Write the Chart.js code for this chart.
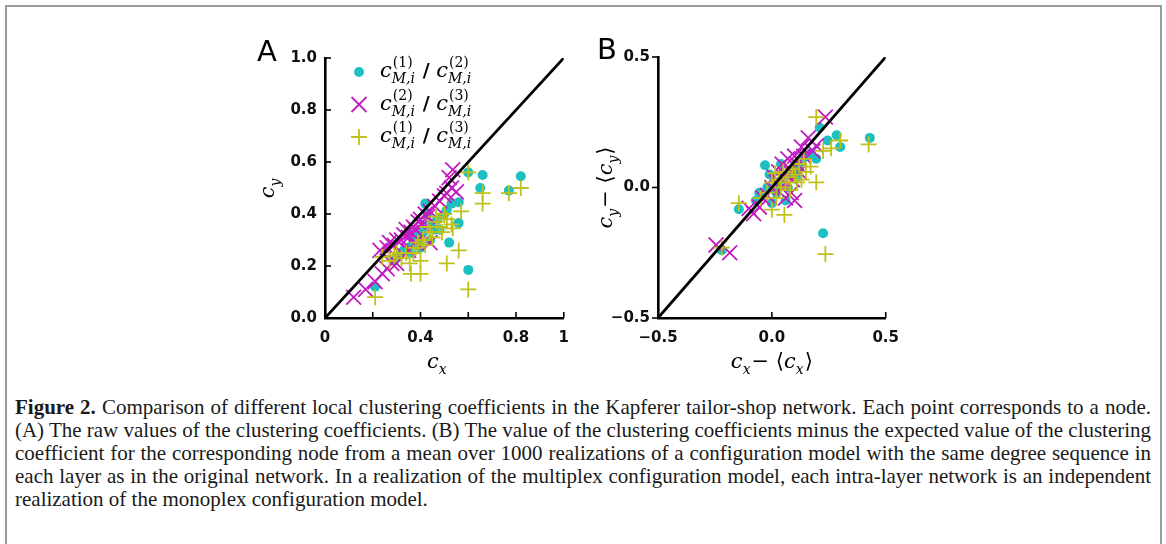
<!DOCTYPE html>
<html>
<head>
<meta charset="utf-8">
<script src="https://cdn.jsdelivr.net/npm/chart.js@4.4.1/dist/chart.umd.min.js"></script>
<style>
  body { margin: 0; width: 1166px; height: 544px; background: #fff; position: relative; overflow: hidden; }
  .frame { position: absolute; left: 5px; top: 5px; width: 1153px; height: 600px; border: 2px solid #9a9a9a; }
  canvas { position: absolute; top: 30px; }
  #panelA { left: 230px; }
  #panelB { left: 590px; }
  .cap { position: absolute; left: 15px; top: 396px; width: 1136px; font-family: 'Liberation Serif', serif;
         font-size: 21px; line-height: 23px; color: #1a1a1a; }
  .cap span { display: inline-block; white-space: nowrap; transform-origin: 0 0; }
</style>
</head>
<body>
<div class="frame"></div>
<canvas id="panelA" width="350" height="360"></canvas>
<canvas id="panelB" width="320" height="360"></canvas>
<div class="cap">
  <div><span data-fit="1"><b>Figure 2.</b> Comparison of different local clustering coefficients in the Kapferer tailor-shop network. Each point corresponds to a node.</span></div>
  <div><span data-fit="1">(A) The raw values of the clustering coefficients. (B) The value of the clustering coefficients minus the expected value of the clustering</span></div>
  <div><span data-fit="1">coefficient for the corresponding node from a mean over 1000 realizations of a configuration model with the same degree sequence in</span></div>
  <div><span data-fit="1">each layer as in the original network. In a realization of the multiplex configuration model, each intra-layer network is an independent</span></div>
  <div><span>realization of the monoplex configuration model.</span></div>
</div>
<script>
// panel A: raw clustering coefficients [c_x, c_y]
const rawC1C2 = [[0.21,0.12],[0.42,0.44],[0.60,0.56],[0.66,0.55],[0.65,0.50],[0.82,0.545],[0.77,0.49],
  [0.60,0.185],[0.56,0.365],[0.52,0.29],[0.53,0.44],[0.56,0.445],[0.51,0.415],[0.47,0.38],[0.46,0.34],
  [0.44,0.36],[0.41,0.33],[0.39,0.30],[0.37,0.29],[0.35,0.27],[0.33,0.26],[0.31,0.24],[0.36,0.25],
  [0.40,0.27],[0.44,0.30],[0.48,0.34],[0.29,0.22],[0.38,0.32],[0.43,0.40],[0.50,0.40]];
const rawC2C3 = [[0.12,0.08],[0.17,0.11],[0.21,0.14],[0.24,0.17],[0.26,0.19],[0.28,0.21],[0.30,0.21],
  [0.23,0.26],[0.26,0.27],[0.27,0.29],[0.29,0.28],[0.30,0.30],[0.32,0.30],[0.33,0.32],[0.34,0.34],
  [0.35,0.31],[0.36,0.33],[0.37,0.35],[0.38,0.34],[0.39,0.37],[0.40,0.38],[0.41,0.36],[0.42,0.40],
  [0.43,0.39],[0.44,0.41],[0.46,0.43],[0.48,0.45],[0.50,0.47],[0.51,0.48],[0.53,0.50],[0.55,0.485],
  [0.535,0.57],[0.52,0.54],[0.44,0.29],[0.35,0.26],[0.38,0.29]];
const rawC1C3 = [[0.21,0.08],[0.60,0.56],[0.66,0.48],[0.66,0.44],[0.77,0.48],[0.82,0.50],[0.60,0.11],
  [0.51,0.21],[0.56,0.26],[0.535,0.345],[0.57,0.41],[0.51,0.38],[0.48,0.35],[0.465,0.39],[0.44,0.33],
  [0.41,0.30],[0.38,0.27],[0.40,0.22],[0.36,0.17],[0.40,0.17],[0.30,0.25],[0.27,0.22],[0.24,0.235],
  [0.34,0.25],[0.355,0.21],[0.32,0.23],[0.29,0.24],[0.37,0.25],[0.42,0.28],[0.45,0.31],[0.49,0.33],
  [0.53,0.36],[0.47,0.37],[0.43,0.35],[0.39,0.29],[0.50,0.40]];

// panel B: minus the configuration-model expectation
const devC1C2 = [[-0.03,0.085],[-0.145,-0.083],[-0.22,-0.24],[0.225,-0.175],[0.43,0.19],[0.285,0.20],
  [0.30,0.155],[0.245,0.18],[0.21,0.23],[0.195,0.11],[-0.055,-0.02],[0.06,-0.05],[0.00,-0.06],[0.03,0.02],
  [0.05,0.04],[0.08,0.06],[0.10,0.08],[0.12,0.07],[0.15,0.12],[0.02,-0.02],[-0.02,0.00],[0.07,0.00],
  [0.11,0.04],[-0.07,-0.05],[0.17,0.13],[-0.01,0.05],[0.04,0.09],[0.13,0.10]];
const devC2C3 = [[0.235,0.27],[0.16,0.19],[-0.245,-0.22],[-0.185,-0.25],[-0.08,-0.10],[-0.055,-0.075],
  [0.085,-0.02],[0.195,0.16],[0.13,0.155],[0.045,0.09],[0.07,0.11],[0.10,0.12],[0.03,0.06],[0.05,0.03],
  [0.02,0.02],[0.00,0.00],[-0.02,-0.03],[-0.04,-0.04],[0.06,0.05],[0.08,0.07],[0.11,0.09],[0.14,0.12],
  [0.18,0.14],[0.04,0.00],[0.09,0.03],[-0.10,-0.08],[0.01,0.04],[0.12,0.06],[0.06,-0.04],[0.10,-0.05]];
const devC1C3 = [[0.195,0.27],[0.30,0.18],[0.425,0.165],[0.26,0.15],[0.225,0.14],[0.195,0.02],
  [0.235,-0.255],[0.055,-0.105],[-0.145,-0.06],[0.00,-0.085],[-0.22,-0.23],[0.11,0.02],[0.17,0.08],
  [0.015,0.055],[0.03,0.03],[0.05,0.06],[0.07,0.04],[0.09,0.07],[0.12,0.09],[0.14,0.11],[0.04,0.00],
  [0.06,0.02],[-0.02,-0.02],[0.02,-0.04],[0.08,-0.01],[0.10,0.05],[-0.05,-0.04],[0.15,0.06],[0.13,0.03],[0.00,0.02]];

// y = x reference lines
const diagA = [[0, 0], [1, 1]];
const diagB = [[-0.5, -0.5], [0.5, 0.5]];

// ticks
const xTicksA = [0, 0.2, 0.4, 0.6, 0.8, 1];
const xLabelsA = ['0', '', '0.4', '', '0.8', '1'];
const yTicksA = [0, 0.2, 0.4, 0.6, 0.8, 1];
const yLabelsA = ['0.0', '0.2', '0.4', '0.6', '0.8', '1.0'];
const ticksB = [-0.5, 0, 0.5];
const labelsB = ['\u22120.5', '0.0', '0.5'];

// legend: layer pairs (superscripts)
const legendPairs = [['(1)', '(2)'], ['(2)', '(3)'], ['(1)', '(3)']];

const CYAN = '#1dc0c0', MAGENTA = '#c11cc1', YELLOW = '#c0c01a';
const tickFont = { family: 'DejaVu Sans', size: 15, weight: 'bold' };
const MATH_IT = "italic 21px 'DejaVu Serif'";
const MATH_RM = "21px 'DejaVu Serif'";
const SMALL_RM = "14px 'DejaVu Serif'";
const SMALL_IT = "italic 14px 'DejaVu Serif'";

const toXY = arr => arr.map(p => ({ x: p[0], y: p[1] }));

function makeSets(c12, c23, c13, diag) {
  return [
    { data: toXY(diag), showLine: true, borderColor: '#000', borderWidth: 2.8, pointRadius: 0, order: 0 },
    { data: toXY(c13), pointStyle: 'cross', pointRadius: 8, borderColor: YELLOW, borderWidth: 1.8, order: 1 },
    { data: toXY(c23), pointStyle: 'crossRot', pointRadius: 10.5, borderColor: MAGENTA, borderWidth: 1.8, order: 2 },
    { data: toXY(c12), pointStyle: 'circle', pointRadius: 5, backgroundColor: CYAN, borderColor: CYAN, borderWidth: 0, order: 3 }
  ];
}

// text pieces: {t,font} or {sup,sub} stacked after a base glyph
function mathWidth(ctx, parts) {
  let w = 0;
  parts.forEach(p => {
    if (p.t !== undefined) { ctx.font = p.font; w += ctx.measureText(p.t).width; }
    else {
      let a = 0, b = 0;
      if (p.sup) { ctx.font = SMALL_RM; a = ctx.measureText(p.sup).width; }
      if (p.sub) { ctx.font = SMALL_IT; b = ctx.measureText(p.sub).width; }
      w += Math.max(a, b) + 1;
    }
  });
  return w;
}
function drawMath(ctx, x, y, parts) {
  ctx.textBaseline = 'alphabetic';
  ctx.textAlign = 'left';
  parts.forEach(p => {
    if (p.t !== undefined) {
      ctx.font = p.font; ctx.fillText(p.t, x, y); x += ctx.measureText(p.t).width;
    } else {
      let a = 0, b = 0;
      if (p.sup) { ctx.font = SMALL_RM; ctx.fillText(p.sup, x + 1, y - 10); a = ctx.measureText(p.sup).width; }
      if (p.sub) { ctx.font = SMALL_IT; ctx.fillText(p.sub, x, y + 6); b = ctx.measureText(p.sub).width; }
      x += Math.max(a, b) + 1;
    }
  });
}

const tickMarks = {
  id: 'tickMarks',
  afterDatasetsDraw(chart, args, opts) {
    const ctx = chart.ctx, a = chart.chartArea;
    const xs = chart.scales.x, ys = chart.scales.y;
    ctx.save();
    ctx.strokeStyle = '#000';
    ctx.lineWidth = 1.6;
    xs.ticks.forEach(t => {
      const p = xs.getPixelForValue(t.value);
      ctx.beginPath(); ctx.moveTo(p, a.bottom); ctx.lineTo(p, a.bottom + opts.xDir * 6); ctx.stroke();
    });
    ys.ticks.forEach(t => {
      const p = ys.getPixelForValue(t.value);
      ctx.beginPath(); ctx.moveTo(a.left, p); ctx.lineTo(a.left + opts.yDir * 6, p); ctx.stroke();
    });
    ctx.restore();
  }
};

const decorations = {
  id: 'decorations',
  afterDraw(chart, args, opts) {
    const ctx = chart.ctx, a = chart.chartArea;
    ctx.save();
    ctx.fillStyle = '#000';
    // panel letter
    ctx.font = "29px 'DejaVu Sans'";
    ctx.textAlign = 'left'; ctx.textBaseline = 'alphabetic';
    ctx.fillText(opts.letter, opts.letterX, opts.letterY);
    // x title
    const xw = mathWidth(ctx, opts.xTitle);
    drawMath(ctx, a.left + (a.right - a.left) / 2 - xw / 2 + opts.xShift, a.bottom + 50, opts.xTitle);
    // y title (rotated)
    const yw = mathWidth(ctx, opts.yTitle);
    ctx.save();
    ctx.translate(opts.yTitleX, (a.top + a.bottom) / 2);
    ctx.rotate(-Math.PI / 2);
    drawMath(ctx, -yw / 2, 0, opts.yTitle);
    ctx.restore();
    // legend
    if (opts.legend) {
      const styles = [
        { s: 'circle', c: CYAN }, { s: 'crossRot', c: MAGENTA }, { s: 'cross', c: YELLOW }
      ];
      legendPairs.forEach((pair, i) => {
        const yy = a.top + 14 + i * 32.5;
        const mx = a.left + 34;
        const st = styles[i];
        ctx.strokeStyle = st.c; ctx.fillStyle = st.c; ctx.lineWidth = 1.8;
        ctx.beginPath();
        if (st.s === 'circle') { ctx.arc(mx, yy, 5, 0, Math.PI * 2); ctx.fill(); }
        else if (st.s === 'crossRot') { ctx.moveTo(mx - 7.5, yy - 7.5); ctx.lineTo(mx + 7.5, yy + 7.5); ctx.moveTo(mx + 7.5, yy - 7.5); ctx.lineTo(mx - 7.5, yy + 7.5); ctx.stroke(); }
        else { ctx.moveTo(mx - 8, yy); ctx.lineTo(mx + 8, yy); ctx.moveTo(mx, yy - 8); ctx.lineTo(mx, yy + 8); ctx.stroke(); }
        ctx.fillStyle = '#000';
        drawMath(ctx, a.left + 55, yy + 5, [
          { t: 'c', font: MATH_IT }, { sup: pair[0], sub: 'M,i' },
          { t: ' / ', font: "bold 19px 'DejaVu Serif'" },
          { t: 'c', font: MATH_IT }, { sup: pair[1], sub: 'M,i' }
        ]);
      });
    }
    ctx.restore();
  }
};

function makeAxis(ticks, labels, min, max, fit, pad) {
  return {
    type: 'linear', min: min, max: max,
    afterBuildTicks: s => { s.ticks = ticks.map(v => ({ value: v })); },
    afterFit: fit,
    border: { display: true, color: '#000', width: 2.6 },
    grid: { display: false, drawTicks: false },
    ticks: { font: tickFont, color: '#111', padding: pad, autoSkip: false, maxRotation: 0,
             callback: (v, i) => labels[i] }
  };
}

function makeChart(id, sets, xAxis, yAxis, padding, deco, ticksOpt) {
  return new Chart(document.getElementById(id), {
    type: 'scatter',
    data: { datasets: sets },
    options: {
      responsive: false, animation: false, devicePixelRatio: 1,
      layout: { padding: padding },
      scales: { x: xAxis, y: yAxis },
      plugins: { legend: { display: false }, tooltip: { enabled: false },
                 tickMarks: ticksOpt, decorations: deco }
    },
    plugins: [tickMarks, decorations]
  });
}

makeChart('panelA', makeSets(rawC1C2, rawC2C3, rawC1C3, diagA),
  makeAxis(xTicksA, xLabelsA, 0, 1, s => { s.height = 72; }, 11),
  makeAxis(yTicksA, yLabelsA, 0, 1, s => { s.width = 95; }, 8),
  { top: 28, right: 16, left: 0, bottom: 0 },
  { letter: 'A', letterX: 27, letterY: 31, xShift: -7, yTitleX: 44,
    xTitle: [{ t: 'c', font: MATH_IT }, { sub: 'x' }],
    yTitle: [{ t: 'c', font: MATH_IT }, { sub: 'y' }],
    legend: true },
  { xDir: -1, yDir: 1 });

makeChart('panelB', makeSets(devC1C2, devC2C3, devC1C3, diagB),
  makeAxis(ticksB, labelsB, -0.5, 0.5, s => { s.height = 72; }, 11),
  makeAxis(ticksB, labelsB, -0.5, 0.5, s => { s.width = 68; }, 8),
  { top: 27, right: 15, left: 0, bottom: 0 },
  { letter: 'B', letterX: 7, letterY: 29, xShift: 0, yTitleX: 22,
    xTitle: [{ t: 'c', font: MATH_IT }, { sub: 'x' }, { t: '\u2212 \u27e8', font: MATH_RM },
             { t: 'c', font: MATH_IT }, { sub: 'x' }, { t: '\u27e9', font: MATH_RM }],
    yTitle: [{ t: 'c', font: MATH_IT }, { sub: 'y' }, { t: '\u2212 \u27e8', font: MATH_RM },
             { t: 'c', font: MATH_IT }, { sub: 'y' }, { t: '\u27e9', font: MATH_RM }],
    legend: false },
  { xDir: -1, yDir: -1 });

// justify the caption lines: spread words, or squeeze a line that is too long
const capWidth = 1136;
document.querySelectorAll('.cap span[data-fit]').forEach(sp => {
  const w = sp.getBoundingClientRect().width;
  const gaps = (sp.textContent.match(/ /g) || []).length;
  if (w < capWidth) sp.style.wordSpacing = ((capWidth - w) / gaps) + 'px';
  else sp.style.transform = 'scaleX(' + (capWidth / w) + ')';
});
</script>
</body>
</html>
